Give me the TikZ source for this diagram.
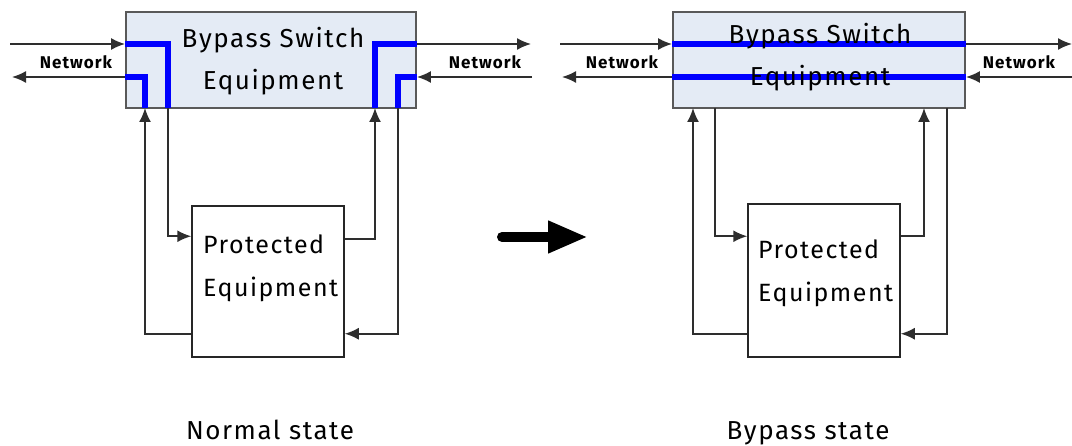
\documentclass[tikz,border=0pt]{standalone}
\usepackage{fontspec}
\setmainfont[LetterSpace=6]{Fira Sans}
\usetikzlibrary{positioning, arrows.meta}
\definecolor{boxfill}{HTML}{E4EBF5}
\definecolor{linegray}{HTML}{2E2E2E}
\tikzset{switchbox/.style={draw=black!65, line width=1.8pt, fill=boxfill, minimum width=290pt, minimum height=96pt, inner sep=0pt},
         protbox/.style={draw=black!85, line width=1.5pt, fill=white, minimum width=152pt, minimum height=151pt, inner sep=0pt},
         link/.style={draw=linegray, line width=1.7pt, -{Latex[length=14pt, width=12pt]}},
         bluepath/.style={draw=blue, line width=5.5pt},
         bigtext/.style={font=\fontsize{26}{42}\selectfont, align=center, inner sep=0pt},
         prottext/.style={font=\fontsize{25}{43}\selectfont, align=left, inner sep=0pt, anchor=west},
         netlbl/.style={font=\fontsize{17}{17}\selectfont\bfseries, inner sep=0pt}}

\begin{document}
\begin{tikzpicture}[x=1pt, y=-1pt]
    \useasboundingbox (0,0) rectangle (1072,446);

    % normal state
    \node[switchbox] (bsL) at (271,60) {};
    \node[protbox] (peL) at (268,281.5) {};
    \coordinate (aL) at (145,108);
    \coordinate (bL) at (168,108);
    \coordinate (cL) at (375,108);
    \coordinate (dL) at (398,108);
    \coordinate (wL1) at (10,44);
    \coordinate (wL2) at (12,77);
    \coordinate (eL1) at (531,44);
    \coordinate (eL2) at (532,77);
    \draw[link] (wL1) -- ([yshift=16pt]bsL.west);
    \draw[link] ([yshift=-17pt]bsL.west) -- (wL2);
    \draw[link] ([yshift=16pt]bsL.east) -- (eL1);
    \draw[link] (eL2) -- ([yshift=-17pt]bsL.east);
    \draw[link] ([yshift=24pt]peL.south west) -| (aL);
    \draw[link] (bL) |- ([yshift=-31pt]peL.north west);
    \draw[link] ([yshift=-34pt]peL.north east) -| (cL);
    \draw[link] (dL) |- ([yshift=24pt]peL.south east);
    \draw[bluepath] ([yshift=16pt]bsL.west) -| (bL);
    \draw[bluepath] ([yshift=-17pt]bsL.west) -| (aL);
    \draw[bluepath] ([yshift=16pt]bsL.east) -| (cL);
    \draw[bluepath] ([yshift=-17pt]bsL.east) -| (dL);
    \node[bigtext] (bsLt) at (273,61) {Bypass Switch\\Equipment};
    \node[prottext] (peLt) at (203,268) {Protected\\Equipment};
    \node[netlbl] (nwL1) at (76,62) {Network};
    \node[netlbl] (nwL2) at (485,62) {Network};
    \node[bigtext] (normal) at (270,430) {Normal state};

    % arrow between the states
    \coordinate (arrS) at (502,237);
    \coordinate (arrE) at (588,237);
    \draw[line width=10pt, line cap=round, -{Triangle[length=40pt, width=30pt]}] (arrS) -- (arrE);

    % bypass state
    \node[switchbox, minimum width=292pt] (bsR) at (819,60) {};
    \node[protbox, minimum height=153pt] (peR) at (824,280.5) {};
    \coordinate (aR) at (693,108);
    \coordinate (bR) at (715,108);
    \coordinate (cR) at (924,108);
    \coordinate (dR) at (947,108);
    \coordinate (wR1) at (560,44);
    \coordinate (wR2) at (562,77);
    \coordinate (eR1) at (1072,44);
    \coordinate (eR2) at (1072,77);
    \draw[link] (wR1) -- ([yshift=16pt]bsR.west);
    \draw[link] ([yshift=-17pt]bsR.west) -- (wR2);
    \draw[link] ([yshift=16pt]bsR.east) -- (eR1);
    \draw[link] (eR2) -- ([yshift=-17pt]bsR.east);
    \draw[link] ([yshift=24pt]peR.south west) -| (aR);
    \draw[link] (bR) |- ([yshift=-33pt]peR.north west);
    \draw[link] ([yshift=-33pt]peR.north east) -| (cR);
    \draw[link] (dR) |- ([yshift=24pt]peR.south east);
    \draw[bluepath] ([yshift=16pt]bsR.west) -- ([yshift=16pt]bsR.east);
    \draw[bluepath] ([yshift=-17pt]bsR.west) -- ([yshift=-17pt]bsR.east);
    \node[bigtext] (bsRt) at (820,57) {Bypass Switch\\Equipment};
    \node[prottext] (peRt) at (758,273) {Protected\\Equipment};
    \node[netlbl] (nwR1) at (622,62) {Network};
    \node[netlbl] (nwR2) at (1019,62) {Network};
    \node[bigtext] (bypass) at (808,433) {Bypass state};
\end{tikzpicture}
\end{document}
